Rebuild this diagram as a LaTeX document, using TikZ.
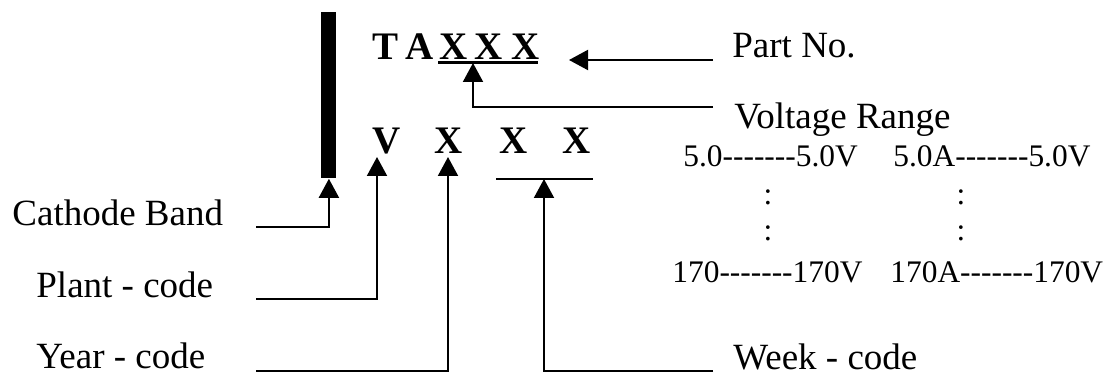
\documentclass[tikz,border=0pt]{standalone}
\usepackage{fontspec}
\setmainfont{Liberation Serif}
\usetikzlibrary{arrows.meta}
\newcommand{\hyph}{-{}-{}-{}-{}-{}-{}-}
\begin{document}
\begin{tikzpicture}[x=0.5pt,y=-0.5pt]
\useasboundingbox (0,0) rectangle (1115,374);
\node[fill, inner sep=0pt, minimum width=7.5pt, minimum height=83pt, anchor=north west] (band) at (321,12) {};
\begin{scope}[every node/.style={anchor=base west, inner sep=0pt, font=\fontsize{19.5}{22}\selectfont\bfseries}]
    \node (t) at (372,60) {T};
    \node (a) at (405,60) {A};
    \node (x1) at (439,60) {X};
    \node (x2) at (474,60) {X};
    \node (x3) at (511,60) {X};
    \node (v) at (372,154) {V};
    \node (y) at (434,154) {X};
    \node (w1) at (499,154) {X};
    \node (w2) at (562,154) {X};
\end{scope}
\begin{scope}[every node/.style={anchor=base west, inner sep=0pt, font=\fontsize{18.5}{22}\selectfont}]
    \node (cathode) at (12,226) {Cathode Band};
    \node (plant) at (36,297) {Plant - code};
    \node (year) at (36,368) {Year - code};
    \node (partno) at (732,58) {Part No.};
    \node (vrange) at (734,129) {Voltage Range};
    \node (week) at (733,369) {Week - code};
\end{scope}
\begin{scope}[every node/.style={anchor=base west, inner sep=0pt, font=\fontsize{15.7}{18}\selectfont}]
    \node (r1) at (683,167) {5.0\hyph5.0V};
    \node (r2) at (893,167) {5.0A\hyph5.0V};
    \node (r3) at (672,283) {170\hyph170V};
    \node (r4) at (890,283) {170A\hyph170V};
    \node[anchor=base] (d1) at (768,205) {:};
    \node[anchor=base] (d2) at (768,241) {:};
    \node[anchor=base] (d3) at (961,205) {:};
    \node[anchor=base] (d4) at (961,241) {:};
\end{scope}
\coordinate (ul1) at (438,63);
\coordinate (ul2) at (538,63);
\coordinate (wl1) at (496,179);
\coordinate (wl2) at (593,179);
\coordinate (vrtip) at (473,63);
\coordinate (pntip) at (569,60);
\coordinate (vtip) at (377,157);
\coordinate (ytip) at (448,157);
\coordinate (wtip) at (544,179);
\coordinate (pn0) at (713,60);
\coordinate (vr0) at (713,107);
\coordinate (cb0) at (256,227);
\coordinate (pc0) at (256,299);
\coordinate (yc0) at (256,371);
\coordinate (wc0) at (713,371);
\draw[line width=1.5pt] (ul1) -- (ul2);
\draw[line width=1pt] (wl1) -- (wl2);
\begin{scope}[every path/.style={draw, line width=1pt, -{Triangle[length=9.5pt,width=10pt]}}]
    \path (pn0) -- (pntip);
    \path (vr0) -| (vrtip);
    \path (cb0) -| (band.south);
    \path (pc0) -| (vtip);
    \path (yc0) -| (ytip);
    \path (wc0) -| (wtip);
\end{scope}
\end{tikzpicture}
\end{document}
